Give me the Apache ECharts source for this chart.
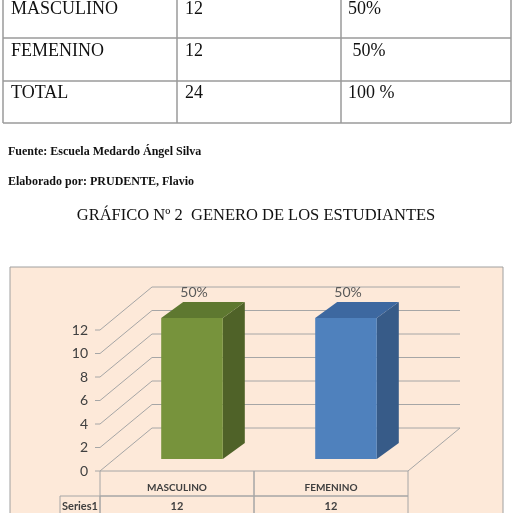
<!DOCTYPE html>
<html><head><meta charset="utf-8">
<script src="https://cdn.jsdelivr.net/npm/echarts@6/dist/echarts.min.js"></script>
<style>html,body{margin:0;padding:0;background:#fff}#c{width:513px;height:513px}</style>
</head><body><div id="c"></div>
<script>
// ---- data ----
const categories = ['MASCULINO', 'FEMENINO'];
const values = [12, 12];
const percentLabels = ['50%', '50%'];
const seriesName = 'Series1';
const yTicks = [0, 2, 4, 6, 8, 10, 12];
const tableRows = ['MASCULINO', 'FEMENINO', 'TOTAL'];
const tableCounts = ['12', '12', '24'];
const tablePercents = ['50%', ' 50%', '100 %'];
const sourceText = 'Fuente: Escuela Medardo Ángel Silva';
const authorText = 'Elaborado por: PRUDENTE, Flavio';
const chartTitle = 'GRÁFICO Nº 2  GENERO DE LOS ESTUDIANTES';

// ---- styles ----
const frontColors = ['#77933c', '#4f81bd'];
const sideColors = ['#4f6228', '#375b88'];
const topColors = ['#5e7830', '#3d68a0'];
const gridGray = '#a6a6a6';
const serif = '"Liberation Serif", "Times New Roman", serif';
const sans = 'Lato, "Open Sans", sans-serif';
const WALL_DX = 52, WALL_DY = -43;
const BAR_OX = 15, BAR_OY = -12, BAR_DX = 22, BAR_DY = -16;

const chart = echarts.init(document.getElementById('c'), null, {renderer: 'canvas'});

// top document table as graphic elements
const g = [];
g.push({type: 'rect', z: 0, shape: {x: 10, y: 267, width: 493, height: 260},
  style: {fill: '#fde9d9', stroke: '#a0a0a0', lineWidth: 1}});
const tblV = [3, 177, 341, 511];
const tblH = [38, 81, 123];
tblV.forEach(x => g.push({type: 'line', shape: {x1: x, y1: 0, x2: x, y2: 123},
  style: {stroke: '#9a9a9a', lineWidth: 1.5}}));
tblH.forEach(y => g.push({type: 'line', shape: {x1: 3, y1: y, x2: 511, y2: y},
  style: {stroke: '#9a9a9a', lineWidth: 1.5}}));
const rowY = [9, 51, 93];
tableRows.forEach((r, i) => {
  g.push({type: 'text', x: 11, y: rowY[i], style: {text: r, font: '18px ' + serif, fill: '#111', verticalAlign: 'middle'}});
  g.push({type: 'text', x: 185, y: rowY[i], style: {text: tableCounts[i], font: '18px ' + serif, fill: '#111', verticalAlign: 'middle'}});
  g.push({type: 'text', x: 348, y: rowY[i], style: {text: tablePercents[i], font: '18px ' + serif, fill: '#111', verticalAlign: 'middle'}});
});
g.push({type: 'text', x: 8, y: 152, style: {text: sourceText, font: 'bold 12px ' + serif, fill: '#111', verticalAlign: 'middle'}});
g.push({type: 'text', x: 8, y: 182, style: {text: authorText, font: 'bold 12px ' + serif, fill: '#111', verticalAlign: 'middle'}});
g.push({type: 'text', x: 256, y: 216, style: {text: chartTitle, font: '16.5px ' + serif, fill: '#111', align: 'center', verticalAlign: 'middle'}});

const option = {
  animation: false,
  backgroundColor: '#fff',
  graphic: g,
  grid: {left: 100, top: 330, width: 308, height: 141},
  xAxis: {type: 'category', data: categories, axisLine: {show: false}, axisTick: {show: false}, axisLabel: {show: false}, splitLine: {show: false}},
  yAxis: {type: 'value', min: 0, max: 12, interval: 2,
    axisLine: {show: false}, axisTick: {show: false}, splitLine: {show: false},
    axisLabel: {margin: 12, color: '#404040', fontFamily: sans, fontSize: 14}},
  series: [
    { // walls & floor gridlines
      type: 'custom', z: 2, silent: true,
      data: yTicks.map(v => [0, v]),
      renderItem: (params, api) => {
        const v = api.value(1);
        const cs = params.coordSys;
        const y = api.coord([0, v])[1];
        const x0 = cs.x, x1 = cs.x + cs.width;
        const pts = [[x0 - 5, y], [x0, y], [x0 + WALL_DX, y + WALL_DY], [x1 + WALL_DX, y + WALL_DY]];
        if (v === 0) pts.push([x1, y]);
        return {type: 'polyline', shape: {points: pts}, style: {stroke: gridGray, lineWidth: 1, fill: null}};
      }
    },
    { // data table
      type: 'custom', z: 3, silent: true,
      data: categories.map((c, i) => [i, values[i]]),
      renderItem: (params, api) => {
        const i = api.value(0);
        const c = api.coord([i, 0]);
        const bw = api.size([1, 0])[0];
        const xL = c[0] - bw / 2;
        const y0 = c[1];
        const h1 = 25, h2 = 22;
        const children = [
          {type: 'rect', shape: {x: xL, y: y0, width: bw, height: h1}, style: {fill: null, stroke: gridGray, lineWidth: 1}},
          {type: 'rect', shape: {x: xL, y: y0 + h1, width: bw, height: h2}, style: {fill: null, stroke: gridGray, lineWidth: 1}},
          {type: 'text', x: c[0], y: y0 + 17, style: {text: categories[i], font: 'bold 10px ' + sans, fill: '#404040', align: 'center', verticalAlign: 'middle'}},
          {type: 'text', x: c[0], y: y0 + h1 + 10, style: {text: String(api.value(1)), font: 'bold 11px ' + sans, fill: '#404040', align: 'center', verticalAlign: 'middle'}}
        ];
        if (i === 0) {
          children.push({type: 'rect', shape: {x: xL - 40, y: y0 + h1, width: 40, height: h2}, style: {fill: null, stroke: gridGray, lineWidth: 1}});
          children.push({type: 'text', x: xL - 38, y: y0 + h1 + 10, style: {text: seriesName, font: 'bold 11px ' + sans, fill: '#404040', align: 'left', verticalAlign: 'middle'}});
        }
        return {type: 'group', children};
      }
    },
    { // 3D bars
      type: 'custom', z: 4, name: seriesName,
      data: categories.map((c, i) => [i, values[i]]),
      renderItem: (params, api) => {
        const i = api.value(0), v = api.value(1);
        const base = api.coord([i, 0]);
        const top = api.coord([i, v]);
        const bw = api.size([1, 0])[0];
        const w = bw * 0.4;
        const xl = base[0] + BAR_OX - w / 2, xr = xl + w;
        const yb = base[1] + BAR_OY, yt = top[1] + BAR_OY;
        return {type: 'group', children: [
          {type: 'polygon', shape: {points: [[xr, yt], [xr + BAR_DX, yt + BAR_DY], [xr + BAR_DX, yb + BAR_DY], [xr, yb]]}, style: {fill: sideColors[i]}},
          {type: 'polygon', shape: {points: [[xl, yt], [xl + BAR_DX, yt + BAR_DY], [xr + BAR_DX, yt + BAR_DY], [xr, yt]]}, style: {fill: topColors[i]}},
          {type: 'rect', shape: {x: xl, y: yt, width: w, height: yb - yt}, style: {fill: frontColors[i]}},
          {type: 'text', x: xl + w / 2 + 2, y: yt + BAR_DY - 10, style: {text: percentLabels[i], font: '14px ' + sans, fill: '#595959', align: 'center', verticalAlign: 'middle'}}
        ]};
      }
    }
  ]
};
chart.setOption(option);
</script>
</body></html>
